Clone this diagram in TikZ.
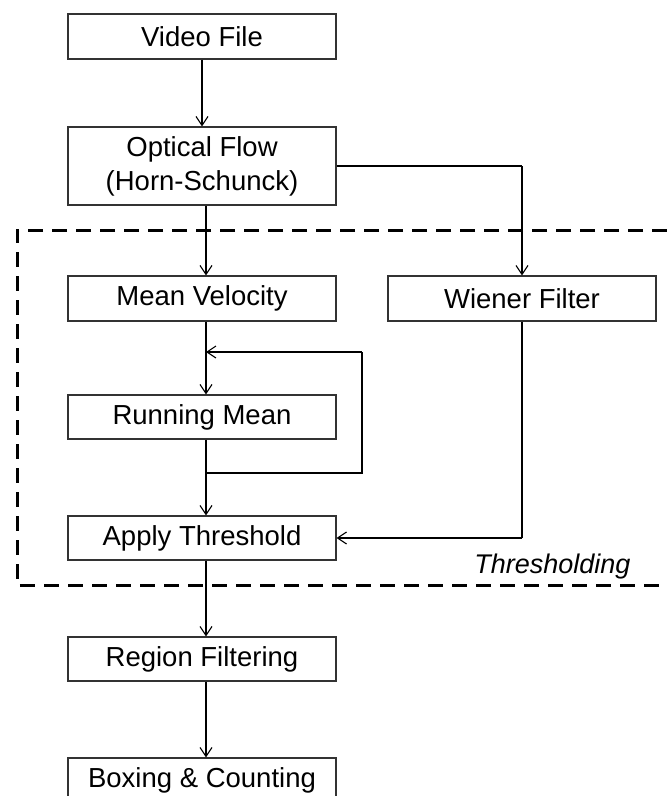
\documentclass[tikz,border=0pt]{standalone}
\usepackage{fontspec}
\setmainfont{Liberation Sans}
\usetikzlibrary{arrows.meta}
\begin{document}
\begin{tikzpicture}[x=1pt,y=-1pt,
  stepbox/.style={draw=black!80, line width=1.2pt, minimum width=268pt,
    minimum height=44pt, inner sep=0pt, font=\fontsize{27.5}{33}\selectfont,
    align=center},
  flow/.style={draw=black, line width=1.1pt,
    -{Straight Barb[length=9pt,width=12pt,line width=1.1pt]}},
  wire/.style={draw=black, line width=1.1pt},
  group/.style={draw=black, line width=3pt, dash pattern=on 15pt off 9pt}]
\useasboundingbox (0,0) rectangle (667,796);

% processing steps
\node[stepbox, minimum height=45pt] (video) at (202,36.5) {Video File};
\node[stepbox, minimum height=78pt, font=\fontsize{27.5}{34}\selectfont] (optical) at (202,166) {Optical Flow\\(Horn-Schunck)};
\node[stepbox, minimum height=45pt] (meanv) at (202,298.5) {Mean Velocity};
\node[stepbox, minimum height=45pt] (wiener) at (522,298.5) {Wiener Filter};
\node[stepbox] (running) at (202,417) {Running Mean};
\node[stepbox] (apply) at (202,538) {Apply Threshold};
\node[stepbox] (region) at (202,659) {Region Filtering};
\node[stepbox] (boxing) at (202,780) {Boxing \& Counting};

% thresholding group (open on the right)
\draw[group] (667,230) -- (17,230) -- (17,585) -- (667,585);
\node[anchor=base east, font=\itshape\fontsize{27}{32}\selectfont] (grouplabel) at (634,573) {Thresholding};

% routing points
\coordinate (col) at (206,0);
\coordinate (fbtop) at (206,352);
\coordinate (fbbot) at (206,473);
\coordinate (fbright) at (362,473);
\coordinate (fbrtop) at (362,352);
\coordinate (wturn) at (522,166);
\coordinate (wdown) at (522,538);

% connectors
\draw[flow] (video) -- (optical);
\draw[flow] (optical.south -| col) -- (meanv.north -| col);
\draw[wire] (optical.east) -- (wturn);
\draw[flow] (wturn) -- (wiener.north);
\draw[flow] (meanv.south -| col) -- (running.north -| col);
\draw[wire] (running.south -| col) -- (fbbot) -- (fbright) -- (fbrtop);
\draw[flow] (fbrtop) -- (fbtop);
\draw[flow] (fbbot) -- (apply.north -| col);
\draw[wire] (wiener.south) -- (wdown);
\draw[flow] (wdown) -- (apply.east);
\draw[flow] (apply.south -| col) -- (region.north -| col);
\draw[flow] (region.south -| col) -- (boxing.north -| col);
\end{tikzpicture}
\end{document}
